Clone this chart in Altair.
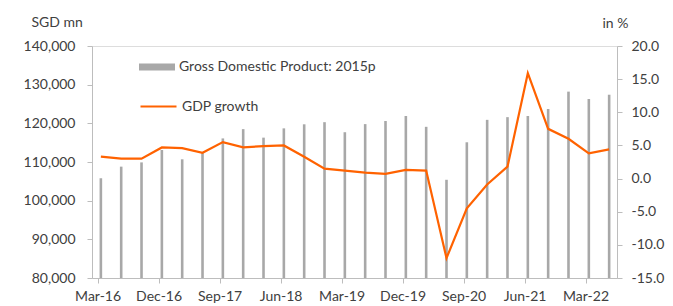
import altair as alt
import pandas as pd

quarters = ["Mar-16","Jun-16","Sep-16","Dec-16","Mar-17","Jun-17","Sep-17","Dec-17",
            "Mar-18","Jun-18","Sep-18","Dec-18","Mar-19","Jun-19","Sep-19","Dec-19",
            "Mar-20","Jun-20","Sep-20","Dec-20","Mar-21","Jun-21","Sep-21","Dec-21",
            "Mar-22","Jun-22"]
gdp = [105800, 108800, 109900, 113100, 110700, 112300, 116100, 118500,
       116300, 118700, 119750, 120300, 117700, 119800, 120600, 121900,
       119100, 105400, 115100, 120900, 121600, 121900, 123700, 128200,
       126300, 127400]
growth = [3.3, 3.0, 3.0, 4.7, 4.6, 3.9, 5.5, 4.7, 4.9, 5.0, 3.3, 1.5,
          1.2, 0.9, 0.7, 1.3, 1.2, -12.0, -4.5, -0.9, 1.8, 15.9, 7.5, 6.0,
          3.8, 4.4]
tick_labels = ["Mar-16","Dec-16","Sep-17","Jun-18","Mar-19","Dec-19","Sep-20","Jun-21","Mar-22"]

FONT = "Lato"
TXT = "#404040"
AX = "#BDBDBD"

df = pd.DataFrame({
    "idx": list(range(len(quarters))),
    "quarter": quarters,
    "gdp": gdp,
    "growth": growth,
    "s1": "Gross Domestic Product: 2015p",
    "s2": "GDP growth",
})

tick_vals = [3 * i - 0.16 for i in range(len(tick_labels))]
lab_arr = "[" + ",".join("'" + t + "'" for t in tick_labels) + "]"

x = alt.X("idx:Q",
          scale=alt.Scale(domain=[-0.19, 25.14], nice=False, zero=False),
          axis=alt.Axis(values=tick_vals, labelExpr=lab_arr + "[round((datum.value+0.16)/3)]",
                        title=None, grid=False, domainColor=AX, tickColor=AX, tickSize=5,
                        labelPadding=6, labelFontSize=14, labelColor=TXT, labelFont=FONT))

bars = alt.Chart(df).mark_bar(size=2.6).encode(
    x=x,
    y=alt.Y("gdp:Q",
            scale=alt.Scale(domain=[80000, 140000], nice=False, zero=False),
            axis=alt.Axis(values=list(range(80000, 140001, 10000)), format=",d",
                          title="SGD mn", titleAngle=0, titleX=-61, titleY=-24,
                          titleAlign="left", titleBaseline="middle", titleFont=FONT,
                          titleFontSize=14, titleFontWeight="normal", titleColor=TXT,
                          grid=False, domainColor=AX, tickColor=AX, tickSize=5,
                          labelPadding=12, labelFontSize=14, labelColor=TXT, labelFont=FONT)),
    y2=alt.datum(80000),
    color=alt.Color("s1:N", scale=alt.Scale(range=["#A8A8A8"]),
                    legend=alt.Legend(orient="none", legendX=47, legendY=3, title=None,
                                      symbolType="M-1,-0.2H1V0.2H-1Z", symbolSize=1296,
                                      symbolStrokeWidth=0, labelFont=FONT, labelFontSize=14,
                                      labelColor=TXT, labelOffset=4, labelLimit=400)),
)

line = alt.Chart(df).mark_line(strokeWidth=2.2).encode(
    x=x,
    y=alt.Y("growth:Q",
            scale=alt.Scale(domain=[-15, 20], nice=False, zero=False),
            axis=alt.Axis(orient="right", values=list(range(-15, 21, 5)),
                          labelExpr="(datum.value<0?'-':'') + format(abs(datum.value), '.1f')",
                          title="in %", titleAngle=0, titleX=-15, titleY=-23,
                          titleAlign="left", titleBaseline="middle", titleFont=FONT,
                          titleFontSize=14, titleFontWeight="normal", titleColor=TXT,
                          grid=False, domainColor=AX, tickColor=AX, tickSize=5,
                          labelPadding=9, labelFontSize=14, labelColor=TXT, labelFont=FONT)),
    stroke=alt.Stroke("s2:N", scale=alt.Scale(range=["#FF6200"]),
                      legend=alt.Legend(orient="none", legendX=47, legendY=41, title=None,
                                        symbolType="stroke", symbolSize=1296,
                                        symbolStrokeWidth=2.2, labelFont=FONT, labelFontSize=14,
                                        labelColor=TXT, labelOffset=4, labelLimit=400)),
)

chart = alt.layer(bars, line).resolve_scale(y="independent", color="independent", stroke="independent").properties(
    width=525, height=232,
    autosize=alt.AutoSizeParams(type="none"),
    padding={"left": 84, "top": 38, "right": 48, "bottom": 28},
).configure_view(stroke=None).configure(background="white")

chart.save("out.html", embed_options={"renderer": "svg", "actions": False})
